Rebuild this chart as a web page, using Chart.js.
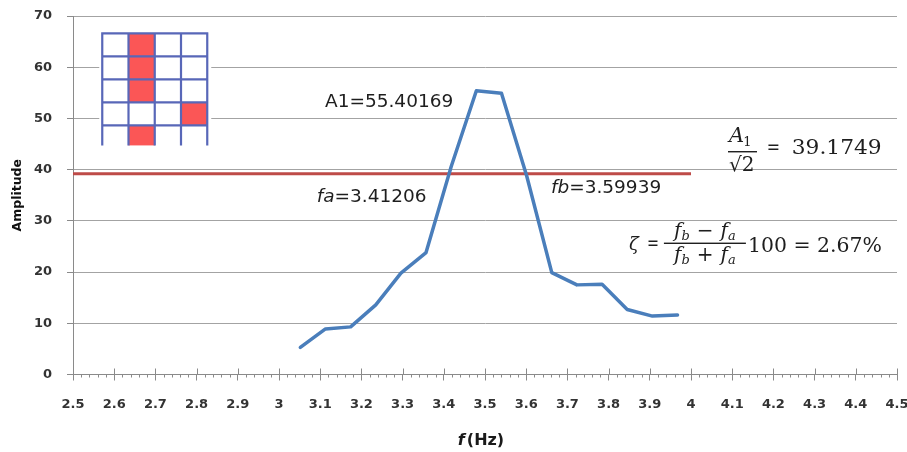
<!DOCTYPE html>
<html>
<head>
<meta charset="utf-8">
<script src="https://cdn.jsdelivr.net/npm/chart.js@4.4.1/dist/chart.umd.min.js"></script>
<style>
  html, body { margin: 0; padding: 0; background: #ffffff; }
  #wrap { width: 907px; height: 452px; position: relative; }
</style>
</head>
<body>
<div id="wrap"><canvas id="chart"></canvas></div>
<script>
// Spectrum samples (frequency in Hz, amplitude)
const freqHz = [3.0518, 3.1128, 3.1738, 3.2349, 3.2959, 3.3569, 3.4180, 3.4790,
                3.5400, 3.6011, 3.6621, 3.7231, 3.7842, 3.8452, 3.9063, 3.9673];
const amplitude = [5.3, 8.9, 9.3, 13.6, 19.8, 23.8, 40.6, 55.40169,
                   54.9, 38.8, 19.9, 17.5, 17.6, 12.7, 11.4, 11.6];

// Half-power results
const peakAmplitude = 55.40169;
const halfPowerLevel = 39.1749;          // A1 / sqrt(2)
const halfPowerLineFreq = [2.5, 4.0];
const fa = 3.41206;
const fb = 3.59939;
const dampingPct = 2.67;

// Axis ticks
const xTickValues = [2.5, 2.6, 2.7, 2.8, 2.9, 3.0, 3.1, 3.2, 3.3, 3.4, 3.5,
                     3.6, 3.7, 3.8, 3.9, 4.0, 4.1, 4.2, 4.3, 4.4, 4.5];
const yTickValues = [0, 10, 20, 30, 40, 50, 60, 70];

// Sensor layout sketch (1 = instrumented cell)
const sensorGrid = [
  [0, 1, 0, 0],
  [0, 1, 0, 0],
  [0, 1, 0, 0],
  [0, 0, 0, 1],
  [0, 1, 0, 0]
];

const spectrumPoints = freqHz.map((f, i) => ({ x: f, y: amplitude[i] }));
const halfPowerPoints = halfPowerLineFreq.map(f => ({ x: f, y: halfPowerLevel }));

const AXIS_GRAY = '#8a8a8a';
const TEXT = '#1e1e1e';

function drawRuns(ctx, x, y, parts) {
  for (const p of parts) {
    ctx.font = p.font;
    ctx.fillText(p.t, x, y + (p.dy || 0));
    x += ctx.measureText(p.t).width + (p.gap || 0);
  }
  return x;
}

function fitText(ctx, text, x, y, width, font) {
  ctx.font = font;
  const w = ctx.measureText(text).width;
  ctx.save();
  ctx.translate(x, y);
  ctx.scale(width / w, 1);
  ctx.fillText(text, 0, 0);
  ctx.restore();
}

const decorations = {
  id: 'decorations',
  afterDraw(chart) {
    const ctx = chart.ctx;
    const xs = chart.scales.x, ys = chart.scales.y;
    const X = v => xs.getPixelForValue(v);
    const Y = v => ys.getPixelForValue(v);
    const axisY = ys.getPixelForValue(0);

    ctx.save();
    // x axis: major ticks crossing the axis line, minor ticks below
    ctx.strokeStyle = AXIS_GRAY;
    ctx.lineWidth = 1;
    ctx.beginPath();
    for (let i = 0; i < xTickValues.length; i++) {
      const px = Math.round(X(xTickValues[i])) + 0.5;
      ctx.moveTo(px, axisY - 6);
      ctx.lineTo(px, axisY);
      if (i < xTickValues.length - 1) {
        const a = xTickValues[i], b = xTickValues[i + 1];
        for (let k = 1; k < 5; k++) {
          const mx = Math.round(X(a + (b - a) * k / 5)) + 0.5;
          ctx.moveTo(mx, axisY);
          ctx.lineTo(mx, axisY + 3);
        }
      }
    }
    ctx.stroke();

    // sensor layout sketch
    const gx = X(2.571), gy = Y(66.6);
    const cw = 26.25, ch = 23, lastH = 20;
    const rows = sensorGrid.length, cols = sensorGrid[0].length;
    const gH = ch * (rows - 1) + lastH;
    ctx.fillStyle = '#ffffff';
    ctx.fillRect(gx - 3, gy - 3, cw * cols + 7, gH + 3);
    ctx.fillStyle = '#fb5656';
    sensorGrid.forEach((row, r) => row.forEach((on, c) => {
      if (on) {
        const h = r === rows - 1 ? lastH : ch;
        ctx.fillRect(gx + c * cw, gy + r * ch, cw, h);
      }
    }));
    ctx.strokeStyle = '#5867b8';
    ctx.lineWidth = 2.2;
    ctx.beginPath();
    for (let c = 0; c <= cols; c++) {
      ctx.moveTo(gx + c * cw, gy - 1);
      ctx.lineTo(gx + c * cw, gy + gH);
    }
    for (let r = 0; r < rows; r++) {
      ctx.moveTo(gx - 1, gy + r * ch);
      ctx.lineTo(gx + cols * cw + 1, gy + r * ch);
    }
    ctx.stroke();

    // annotations
    ctx.fillStyle = TEXT;
    ctx.textBaseline = 'alphabetic';
    ctx.textAlign = 'left';
    const sans = '18.5px "DejaVu Sans"';
    const sansIt = 'italic 18.5px "DejaVu Sans"';
    ctx.font = sans;
    ctx.fillText('A1=' + peakAmplitude.toFixed(5), X(3.1117), Y(52.18));
    drawRuns(ctx, X(3.0915), Y(33.74), [
      { t: 'fa', font: sansIt }, { t: '=' + fa.toFixed(5), font: sans }
    ]);
    drawRuns(ctx, X(3.660), Y(35.38), [
      { t: 'fb', font: sansIt }, { t: '=' + fb.toFixed(5), font: sans }
    ]);

    // A1 / sqrt(2) = value
    const serif = '"DejaVu Serif"';
    let x0 = X(4.0898), yb = Y(43.5);
    ctx.font = 'italic 21px ' + serif;
    ctx.fillText('A', x0 + 1, yb - 9.5);
    const wA = ctx.measureText('A').width;
    ctx.font = '13px ' + serif;
    ctx.fillText('1', x0 + wA, yb - 5.5);
    ctx.fillRect(x0, yb - 0.7, 29, 1.4);
    ctx.font = '20px ' + serif;
    ctx.fillText('\u221A2', x0 + 1, yb + 19);
    fitText(ctx, '=', x0 + 38.7, yb + 1.8, 13.3, '20px ' + serif);
    fitText(ctx, halfPowerLevel.toFixed(4), x0 + 63.7, yb + 1.8, 90, '20px ' + serif);

    // zeta = (fb - fa)/(fb + fa) 100 = value
    x0 = X(3.859); yb = Y(25.62);
    ctx.font = 'italic 18px ' + serif;
    ctx.fillText('\u03B6', x0 - 4, yb + 7);
    fitText(ctx, '=', x0 + 14, yb + 7, 12, '20px ' + serif);
    const bar0 = x0 + 31, barW = 82;
    ctx.fillRect(bar0, yb - 0.7, barW, 1.4);
    const frac = (op, base) => {
      const fIt = 'italic 20px ' + serif, sub = 'italic 13px ' + serif, opF = '20px ' + serif;
      ctx.font = fIt; const wf = ctx.measureText('f').width;
      ctx.font = sub; const wb = ctx.measureText('b').width, wa = ctx.measureText('a').width;
      ctx.font = opF; const wo = ctx.measureText(op).width;
      const gap = 7;
      const total = wf + wb + gap + wo + gap + wf + wa;
      let x = bar0 + (barW - total) / 2;
      ctx.font = fIt; ctx.fillText('f', x, base); x += wf;
      ctx.font = sub; ctx.fillText('b', x, base + 3); x += wb + gap;
      ctx.font = opF; ctx.fillText(op, x, base); x += wo + gap;
      ctx.font = fIt; ctx.fillText('f', x, base); x += wf;
      ctx.font = sub; ctx.fillText('a', x, base + 3);
    };
    frac('\u2212', yb - 6);
    frac('+', yb + 18);
    fitText(ctx, '100 = ' + dampingPct.toFixed(2) + '%', x0 + 115, yb + 8.4, 134, '20px ' + serif);

    // x axis title: f(Hz)
    ctx.fillStyle = '#1a1a1a';
    const tf1 = 'bold italic 16px "DejaVu Sans"', tf2 = 'bold 16px "DejaVu Sans"';
    ctx.font = tf1; const w1 = ctx.measureText('f').width + 2;
    ctx.font = tf2; const w2 = ctx.measureText('(Hz)').width;
    const cx = (chart.chartArea.left + chart.chartArea.right) / 2 - 4;
    drawRuns(ctx, cx - (w1 + w2) / 2, 445, [
      { t: 'f', font: tf1, gap: 2 }, { t: '(Hz)', font: tf2 }
    ]);
    ctx.restore();
  }
};

new Chart(document.getElementById('chart'), {
  type: 'line',
  data: {
    datasets: [
      {
        label: 'Amplitude',
        data: spectrumPoints,
        borderColor: '#4a7ebb',
        borderWidth: 3.5,
        pointRadius: 0,
        tension: 0,
        borderJoinStyle: 'round',
        borderCapStyle: 'round',
        fill: false
      },
      {
        label: 'A1/sqrt(2)',
        data: halfPowerPoints,
        borderColor: '#be4b48',
        borderWidth: 3,
        pointRadius: 0,
        fill: false
      }
    ]
  },
  options: {
    responsive: true,
    maintainAspectRatio: false,
    animation: false,
    layout: { padding: { top: 16, right: 10, left: 0, bottom: 0 } },
    plugins: { legend: { display: false }, tooltip: { enabled: false } },
    scales: {
      x: {
        type: 'linear',
        min: 2.5,
        max: 4.5,
        afterBuildTicks: s => { s.ticks = xTickValues.map(v => ({ value: v })); },
        afterFit: s => {
          s.height = 77.5;
          s.paddingLeft = 0; s.paddingRight = 0;
        },
        border: { display: true, color: AXIS_GRAY, width: 1 },
        grid: { drawOnChartArea: false, drawTicks: true, tickLength: 6, tickColor: AXIS_GRAY },
        ticks: {
          autoSkip: false,
          maxRotation: 0,
          padding: 16,
          color: '#333333',
          font: { family: 'DejaVu Sans', size: 13, weight: 'bold' },
          callback: v => Number.isInteger(Math.round(v * 1000) / 1000) ? String(Math.round(v)) : v.toFixed(1)
        }
      },
      y: {
        type: 'linear',
        min: 0,
        max: 70,
        afterBuildTicks: s => { s.ticks = yTickValues.map(v => ({ value: v })); },
        afterFit: s => {
          s.width = 73;
          s.paddingTop = 0; s.paddingBottom = 0;
        },
        border: { display: true, color: AXIS_GRAY, width: 1 },
        grid: { color: '#a3a3a3', lineWidth: 1, drawTicks: true, tickLength: 6, tickColor: AXIS_GRAY },
        ticks: {
          padding: 15,
          color: '#333333',
          font: { family: 'DejaVu Sans', size: 13, weight: 'bold' }
        },
        title: {
          display: true,
          text: 'Amplitude',
          color: '#111111',
          padding: { top: 10, bottom: 0 },
          font: { family: 'DejaVu Sans', size: 12.5, weight: 'bold' }
        }
      }
    }
  },
  plugins: [decorations]
});
</script>
</body>
</html>
